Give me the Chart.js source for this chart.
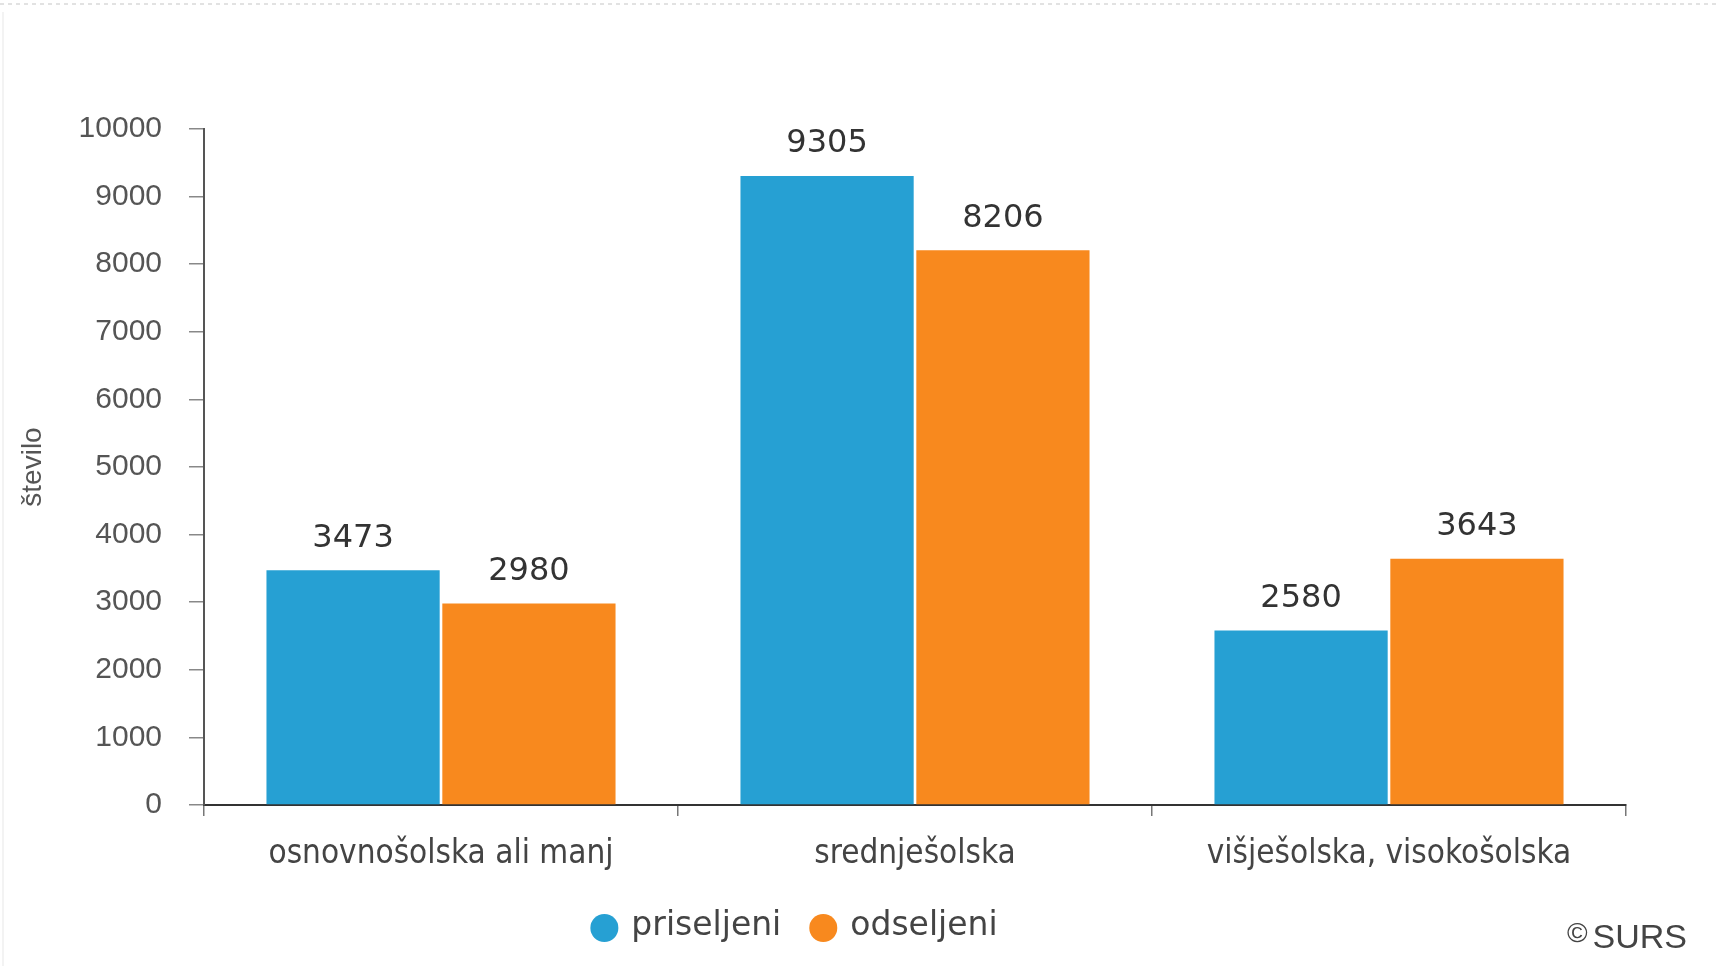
<!DOCTYPE html>
<html>
<head>
<meta charset="utf-8">
<script src="https://cdn.jsdelivr.net/npm/chart.js@4"></script>
<style>
  html, body { margin: 0; padding: 0; background: #fff; }
  #graf { display: block; }
</style>
</head>
<body>
<canvas id="graf" width="1718" height="966"></canvas>
<script>
//DATA
const kategorije = ['osnovnošolska ali manj', 'srednješolska', 'višješolska, visokošolska'];
const priseljeni = [3473, 9305, 2580];
const odseljeni  = [2980, 8206, 3643];
const imena      = ['priseljeni', 'odseljeni'];
const barve      = ['#26A0D3', '#F8891E'];

//PLUGINS
const ozadje = {
    id: 'ozadje',
    beforeDraw(chart) {
        const ctx = chart.ctx;
        ctx.save();
        ctx.fillStyle = '#fff';
        ctx.fillRect(0, 0, chart.width, chart.height);
        // rahla obroba na vrhu
        ctx.strokeStyle = '#e2e2e2';
        ctx.lineWidth = 2;
        ctx.setLineDash([4, 4]);
        ctx.beginPath();
        ctx.moveTo(0, 4);
        ctx.lineTo(chart.width, 4);
        ctx.stroke();
        ctx.setLineDash([]);
        ctx.strokeStyle = '#f3f3f3';
        ctx.beginPath();
        ctx.moveTo(3, 12);
        ctx.lineTo(3, chart.height);
        ctx.stroke();
        ctx.restore();
    }
};

const oznake = {
    id: 'oznake',
    afterDatasetsDraw(chart) {
        const ctx = chart.ctx;
        ctx.save();
        ctx.font = '32px "DejaVu Sans", Verdana, sans-serif';
        ctx.fillStyle = '#333';
        ctx.textAlign = 'center';
        ctx.textBaseline = 'middle';
        chart.data.datasets.forEach((ds, i) => {
            chart.getDatasetMeta(i).data.forEach((el, j) => {
                ctx.fillText(String(ds.data[j]), el.x, el.y - 32);
            });
        });
        ctx.restore();
    }
};

const legenda = {
    id: 'legenda',
    afterDraw(chart) {
        const ctx = chart.ctx;
        const r = 14, razmak = 13, medEl = 28;
        const sredina = 794, y = 928;
        ctx.save();
        ctx.font = '33px "DejaVu Sans", Verdana, sans-serif';
        ctx.textBaseline = 'middle';
        const sirine = chart.data.datasets.map(ds => 2 * r + razmak + ctx.measureText(ds.label).width);
        let x = sredina - (sirine.reduce((a, b) => a + b, 0) + medEl * (sirine.length - 1)) / 2;
        chart.data.datasets.forEach((ds, i) => {
            ctx.fillStyle = ds.backgroundColor;
            ctx.beginPath();
            ctx.arc(x + r, y, r, 0, Math.PI * 2);
            ctx.fill();
            ctx.fillStyle = '#444';
            ctx.textAlign = 'left';
            ctx.fillText(ds.label, x + 2 * r + razmak, y - 2);
            x += sirine[i] + medEl;
        });
        // vir
        ctx.textAlign = 'right';
        ctx.textBaseline = 'alphabetic';
        ctx.fillStyle = '#444';
        ctx.font = '34px "Liberation Sans Narrow", "Liberation Sans", Arial, sans-serif';
        ctx.fillText('SURS', 1687, 948);
        const w = ctx.measureText('SURS').width;
        ctx.font = '28px "Liberation Sans", Arial, sans-serif';
        ctx.fillText('©', 1687 - w - 5, 942);
        ctx.restore();
    }
};

//CHART
const graf = new Chart(document.querySelector('#graf'), {
    type: 'bar',
    data: {
        labels: kategorije,
        datasets: [
            { label: imena[0], data: priseljeni, backgroundColor: barve[0] },
            { label: imena[1], data: odseljeni,  backgroundColor: barve[1] }
        ]
    },
    options: {
        responsive: false,
        animation: false,
        devicePixelRatio: 1,
        categoryPercentage: 0.742,
        barPercentage: 0.985,
        layout: { padding: { left: 16, right: 92, top: 129, bottom: 0 } },
        plugins: {
            legend: { display: false },
            tooltip: { enabled: false }
        },
        scales: {
            x: {
                afterFit: (s) => { s.height = 161; },
                grid: { drawOnChartArea: false, tickLength: 11, color: '#777', lineWidth: 1.5 },
                border: { color: '#333', width: 2 },
                ticks: {
                    color: '#444',
                    padding: 19,
                    font: { family: '"DejaVu Sans Condensed", "DejaVu Sans", sans-serif', size: 33 }
                }
            },
            y: {
                min: 0,
                max: 10000,
                afterFit: (s) => { s.width = 188; },
                grid: { drawOnChartArea: false, tickLength: 15, color: '#888', lineWidth: 1.5 },
                border: { color: '#555', width: 2 },
                ticks: {
                    stepSize: 1000,
                    color: '#555',
                    padding: 27,
                    font: { family: '"Liberation Sans", Arial, sans-serif', size: 30 },
                    callback: (v) => String(v)
                },
                title: {
                    display: true,
                    text: 'število',
                    color: '#555',
                    padding: 0,
                    font: { family: '"Liberation Sans", Arial, sans-serif', size: 28 }
                }
            }
        }
    },
    plugins: [ozadje, oznake, legenda]
});
</script>
</body>
</html>
